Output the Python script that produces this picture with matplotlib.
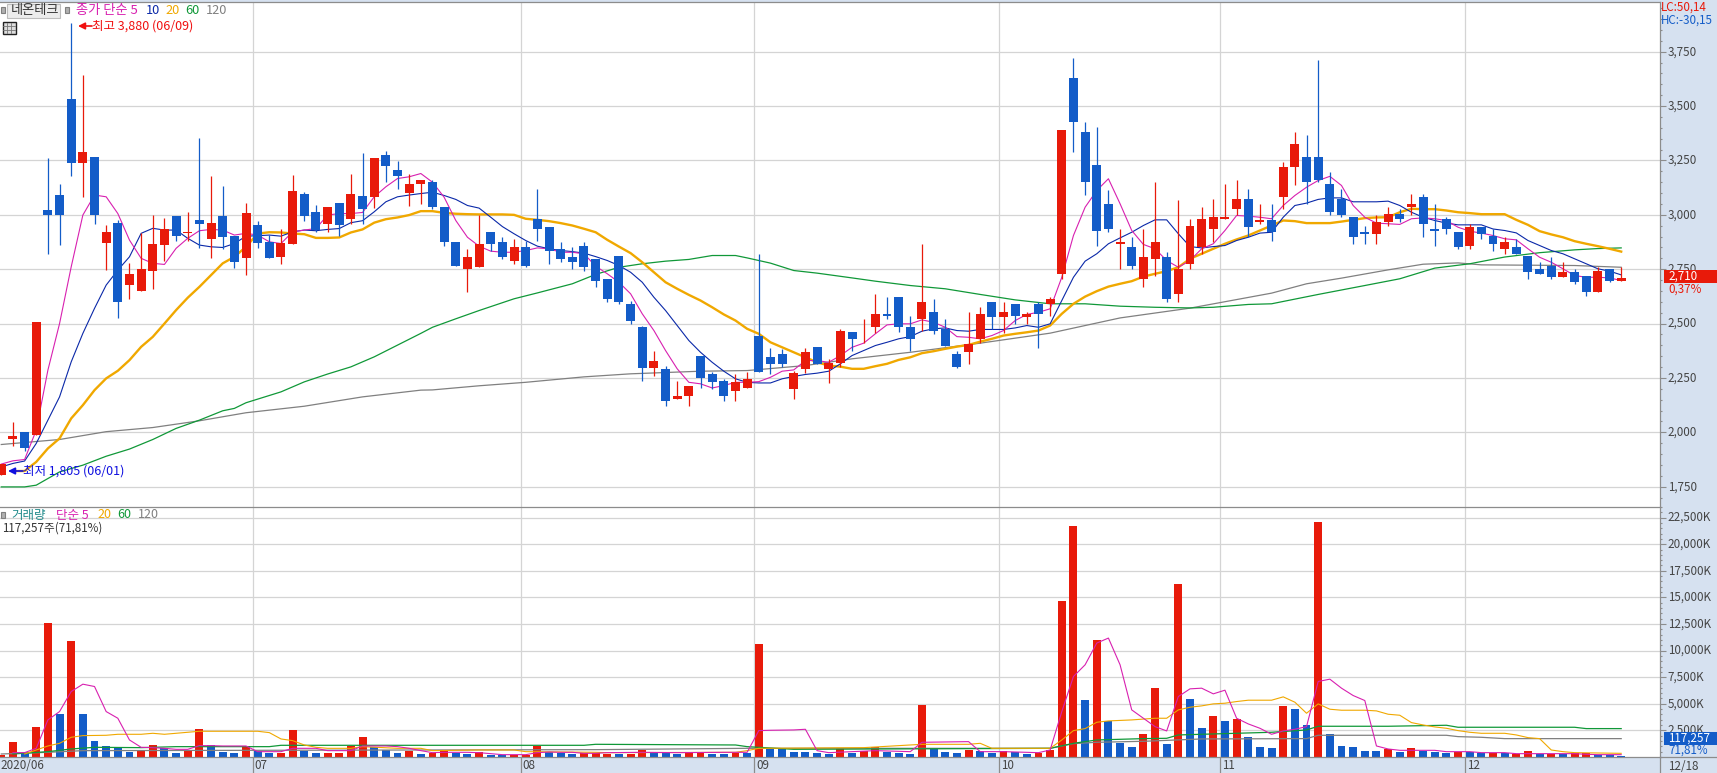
import numpy as np
import matplotlib
matplotlib.use("Agg")
import matplotlib.pyplot as plt
from matplotlib.patches import Rectangle
from matplotlib.ticker import MultipleLocator

W, H = 1717, 773
FONT = ['Noto Sans CJK KR', 'DejaVu Sans']
plt.rcParams['font.family'] = FONT

RED = '#e81a0a'
BLUE = '#135cc8'
PINK = '#d820b0'
NAVY = '#0a28a8'
ORANGE = '#f0a800'
GREEN = '#109838'
GRAY = '#808080'
GRID = '#d4d4d4'
STRIP = '#d6e1f0'
EDGE = '#8c8c8c'
LABEL = '#444444'
SMALL = 8.4

# daily prices
opens = [1805,1971,2000,1988,3021,3091,3532,3238,3266,2870,
         2961,2677,2650,2741,2861,2993,2915,2975,2888,2993,
         2901,2801,2953,2875,2806,2866,3095,3012,2957,3054,
         2980,3086,3082,3275,3206,3100,3141,3149,3038,2873,
         2753,2762,2923,2877,2790,2850,2979,2942,2841,2804,
         2859,2795,2703,2813,2592,2482,2298,2293,2151,2165,
         2353,2266,2238,2192,2206,2445,2348,2358,2201,2289,
         2394,2289,2321,2463,2482,2486,2546,2620,2486,2519,
         2555,2473,2362,2371,2427,2597,2528,2588,2532,2588,
         2592,2726,3627,3383,3227,3052,2864,2850,2707,2799,
         2804,2634,2776,2854,2933,2983,3025,3075,2965,2974,
         3080,3218,3268,3264,3140,3071,2992,2923,2910,2965,
         3002,3038,3084,2933,2983,2923,2859,2946,2905,2845,
         2850,2813,2753,2767,2716,2735,2721,2647,2753,2698]
closes = [1855,1983,1928,2507,2997,2997,3238,3290,2997,2920,
          2597,2728,2751,2865,2935,2901,2920,2957,2961,2897,
          2782,3008,2870,2801,2870,3109,2993,2930,3036,2953,
          3095,3026,3261,3224,3178,3141,3160,3034,2877,2767,
          2804,2864,2864,2808,2850,2767,2933,2836,2799,2785,
          2758,2698,2611,2601,2514,2298,2330,2146,2165,2215,
          2252,2233,2165,2233,2247,2279,2312,2312,2275,2371,
          2316,2321,2468,2431,2486,2546,2537,2482,2431,2597,
          2468,2399,2302,2404,2546,2532,2551,2537,2542,2542,
          2611,3392,3425,3149,2928,2933,2873,2767,2804,2873,
          2611,2749,2951,2983,2988,2988,3075,2942,2974,2919,
          3218,3328,3149,3158,3015,2997,2896,2914,2969,3002,
          2983,3052,2956,2928,2933,2854,2946,2910,2864,2873,
          2822,2739,2726,2716,2735,2693,2647,2744,2698,2710]
highs = [1855,2047,2000,2507,3260,3141,3880,3643,3266,2953,
         2975,2778,2915,2997,2985,2993,3012,3353,3178,3132,
         2901,3054,2971,2907,2934,3183,3104,3045,3036,3054,
         3187,3284,3261,3293,3247,3187,3160,3158,3038,2873,
         2845,2997,2923,2900,2887,2882,3117,2942,2873,2850,
         2873,2795,2703,2813,2606,2491,2376,2307,2238,2215,
         2353,2279,2243,2270,2279,2822,2390,2381,2284,2390,
         2394,2339,2473,2463,2519,2638,2620,2620,2537,2868,
         2611,2519,2376,2555,2574,2597,2601,2592,2555,2601,
         2620,3392,3722,3429,3402,3112,2937,2896,2937,3149,
         2827,3066,2983,3034,3071,3144,3162,3117,3052,3048,
         3245,3379,3369,3714,3199,3117,2992,2951,2997,3034,
         3029,3094,3098,3052,2992,2923,2956,2946,2933,2896,
         2887,2813,2785,2804,2785,2749,2721,2762,2753,2758]
lows = [1805,1939,1914,1988,2820,2860,3180,3083,2958,2746,
        2526,2613,2650,2659,2787,2878,2878,2847,2801,2842,
        2755,2722,2847,2801,2773,2866,2970,2920,2920,2901,
        2957,2957,3031,3151,3118,3042,3049,3029,2859,2767,
        2647,2762,2836,2799,2776,2758,2882,2776,2785,2749,
        2744,2670,2597,2592,2500,2234,2257,2119,2151,2123,
        2206,2197,2142,2146,2206,2279,2266,2302,2151,2275,
        2316,2229,2302,2376,2413,2459,2519,2463,2376,2468,
        2450,2399,2298,2316,2413,2473,2459,2496,2496,2390,
        2537,2707,3291,3089,2859,2919,2749,2753,2670,2721,
        2601,2597,2753,2818,2873,2979,2997,2896,2956,2882,
        3025,3135,3052,3153,2997,2992,2864,2864,2864,2951,
        2969,2997,2896,2859,2910,2841,2841,2891,2836,2818,
        2818,2707,2726,2707,2716,2684,2629,2647,2693,2698]

ma5 = [1854,1869,1875,2010,2286,2500,2761,2999,3091,3083,
       3006,2884,2800,2777,2772,2846,2892,2927,2933,2930,
       2907,2915,2907,2876,2868,2922,2930,2937,2999,3006,
       3006,3011,3083,3129,3167,3175,3190,3150,3081,2974,
       2897,2856,2833,2828,2828,2836,2848,2844,2828,2828,
       2821,2764,2729,2690,2637,2545,2468,2376,2292,2230,
       2223,2204,2215,2230,2230,2233,2253,2281,2287,2330,
       2330,2322,2353,2391,2410,2453,2494,2499,2499,2517,
       2506,2483,2440,2437,2430,2445,2468,2514,2542,2552,
       2568,2713,2905,3035,3112,3166,3051,2928,2864,2844,
       2790,2759,2790,2844,2867,2928,2997,2994,2989,2982,
       3043,3089,3127,3158,3177,3135,3043,2989,2962,2959,
       2956,2982,2986,2982,2974,2943,2925,2916,2905,2890,
       2885,2844,2805,2782,2752,2721,2713,2713,2710,2698]
ma10 = [1841,1857,1868,1949,2056,2163,2324,2455,2570,2677,
        2746,2807,2915,2938,2930,2930,2892,2861,2853,2850,
        2868,2902,2904,2907,2902,2922,2930,2927,2933,2937,
        2964,2973,3014,3060,3083,3091,3098,3104,3089,3071,
        3043,3031,2989,2946,2913,2882,2856,2844,2836,2831,
        2824,2808,2790,2767,2736,2690,2621,2560,2491,2422,
        2368,2322,2281,2246,2230,2227,2227,2246,2257,2266,
        2272,2281,2315,2353,2376,2399,2414,2430,2440,2465,
        2476,2480,2468,2465,2473,2473,2473,2480,2491,2483,
        2499,2606,2713,2787,2821,2867,2894,2920,2951,2977,
        2977,2913,2854,2848,2854,2859,2882,2897,2916,2920,
        2989,3043,3054,3071,3078,3078,3060,3060,3060,3063,
        3043,3012,2989,2974,2962,2954,2954,2954,2935,2928,
        2917,2882,2859,2836,2821,2798,2775,2752,2741,2724]
ma20 = [np.nan,1822,1822,1864,1926,1972,2064,2125,2194,2248,
        2283,2332,2393,2439,2500,2562,2619,2669,2723,2777,
        2807,2853,2914,2920,2919,2914,2911,2894,2894,2896,
        2919,2933,2964,2980,2988,2999,3017,3017,3009,3005,
        3003,3002,3002,3002,3000,2982,2977,2971,2962,2951,
        2936,2920,2885,2854,2824,2782,2736,2690,2660,2632,
        2606,2575,2542,2514,2476,2453,2414,2391,2368,2345,
        2322,2307,2302,2292,2292,2304,2315,2333,2345,2364,
        2373,2384,2394,2402,2417,2430,2445,2453,2460,2468,
        2491,2545,2591,2624,2649,2670,2683,2695,2716,2729,
        2741,2759,2798,2821,2844,2867,2887,2905,2928,2951,
        2974,2971,2962,2962,2962,2969,2977,2985,2988,2989,
        3012,3028,3026,3026,3020,3012,3008,3003,3003,3003,
        2977,2954,2925,2910,2897,2879,2867,2856,2844,2831]

ma60_idx = [0,2,3,5,7,9,11,13,15,17,19,20,21,24,26,28,30,32,34,36,
            37,39,41,44,46,49,51,53,55,57,59,61,63,64,66,68,70,73,
            75,78,81,84,87,90,93,96,99,102,104,107,109,113,117,120,
            123,126,129,132,135,137,139]
ma60 = [1749,1749,1757,1818,1849,1890,1923,1967,2018,2056,2099,2110,2136,2186,2232,2268,2301,2347,2401,2455,
        2483,2522,2560,2614,2641,2683,2726,2759,2775,2787,2795,2813,2813,2802,2778,2744,2732,2710,
        2695,2675,2660,2634,2609,2591,2591,2580,2575,2572,2575,2588,2591,2634,2675,2706,
        2755,2775,2806,2826,2839,2845,2848]
ma120_idx = [0,5,9,13,17,21,26,31,36,37,41,45,50,54,60,64,69,73,78,84,90,96,102,
             109,112,115,119,122,125,127,135,139]
ma120 = [1944,1967,2003,2022,2053,2090,2120,2163,2194,2195,2214,2230,2255,2269,2281,2284,2307,2338,2368,2410,2456,2526,2571,
         2640,2683,2709,2747,2773,2779,2770,2767,2759]

# volume in thousand shares
volume = [190,1415,345,2830,12620,4050,10930,4050,1510,1040,
          910,500,660,1130,820,380,660,2640,1130,470,
          380,1070,600,380,380,2540,600,380,380,380,
          1070,1880,970,690,380,570,280,410,690,410,
          310,470,190,190,190,190,1040,470,410,280,
          380,410,283,283,283,659,408,408,283,408,
          408,283,283,408,345,10645,816,816,471,471,
          377,283,816,408,597,973,471,377,283,4898,
          816,471,377,691,597,408,534,502,283,345,
          691,14695,21666,5369,11021,3360,1350,942,2167,6500,
          1225,16297,5464,2732,3862,3391,3580,1884,942,848,
          4804,4522,3014,22043,2167,1036,942,565,565,754,
          471,848,565,471,377,502,502,408,408,408,
          314,565,283,314,314,345,345,220,220,117]
vol_up = [1,1,0,1,1,0,1,0,0,0,
          0,0,1,1,0,0,1,1,0,0,
          0,1,0,0,1,1,0,0,1,1,
          1,1,0,0,0,1,0,1,1,0,
          0,1,0,0,1,1,1,0,0,0,
          1,1,1,0,1,1,0,0,0,1,
          1,0,0,1,0,1,0,0,0,0,
          0,0,1,0,1,1,0,0,0,1,
          0,0,0,1,0,0,1,0,0,1,
          1,1,1,0,1,0,0,0,1,1,
          0,1,0,0,1,0,1,0,0,0,
          1,0,0,1,0,0,0,0,0,1,
          0,1,0,0,0,1,0,0,1,0,
          1,1,0,1,0,1,1,0,0,0]

vma5_idx = [1,2,3,4,5,6,7,8,9,10,11,12,13,14,15,16,17,18,19,20,21,22,23,24,25,26,27,28,30,31,32,33,34,35,36,37,38,39,40,41,42,43,44,45,46,47,48,49,50,51,
            52,55,58,62,64,65,66,68,69,70,71,75,78,79,83,84,86,89,90,91,92,93,94,95,96,97,98,99,100,101,102,
            103,104,105,106,107,108,109,110,111,112,113,114,115,116,117,118,119,120,123,124,126,127,129,130,135,136,137,139]
vma5 = [408,408,816,3485,4270,6154,6845,6625,4270,3642,1601,911,879,816,722,722,1068,1068,1036,1036,1036,502,502,502,816,816,816,597,597,1036,1036,1036,973,816,597,408,440,440,440,408,314,220,220,220,408,471,440,440,345,345,
        408,440,408,440,440,2481,2512,2543,2606,597,408,597,502,1382,1444,502,502,408,659,4270,7567,8666,10707,11178,8666,4427,3642,2857,2449,5683,6405,
        6468,5935,6280,3642,3109,2700,2135,2449,2606,2857,7096,7316,6468,5778,5307,1036,754,628,628,502,502,408,408,314,314,251,220,220]
vma20_idx = [2,4,5,6,7,9,10,12,13,14,15,17,22,23,24,25,26,27,28,30,31,34,36,37,41,44,45,51,
             52,63,64,65,74,79,83,84,85,90,91,92,93,94,95,97,99,100,101,102,
             103,104,105,106,107,109,110,111,112,113,114,115,117,118,119,120,121,122,123,124,125,126,127,129,130,131,132,133,134,135,139]
vma20 = [283,1036,1287,1853,2010,2041,2135,2135,2229,2135,2229,2418,2418,2292,1696,1539,1130,911,816,816,973,816,816,597,659,659,502,440,
         408,440,597,816,879,1193,1193,1287,816,816,1601,2481,2669,3266,3391,3485,3642,3642,4427,4679,
         4804,4993,5055,5212,5338,5338,5652,5150,4113,4993,4490,4396,4396,4333,4019,3925,3234,3014,2826,2700,2481,2324,2229,2229,2072,1821,1727,659,502,408,345]
vma60_idx = [1,4,6,8,12,15,23,24,50,51,63,64,68,90,92,94,98,100,101,103,109,112,113,119,124,125,135,136,139]
vma60 = [283,502,754,911,879,973,973,1099,1099,1193,1130,973,722,816,1287,1601,1727,1758,2072,2135,2324,2543,2889,2889,2983,2795,2795,2669,2669]
vma120_idx = [0,4,7,51,64,90,92,94,98,103,112,113,124,125,127,129,139]
vma120 = [283,440,597,691,816,816,1256,1382,1476,1696,1727,2041,2041,1915,1853,1727,1727]

price_ticks = [1750, 2000, 2250, 2500, 2750, 3000, 3250, 3500, 3750]
vol_ticks = [2500, 5000, 7500, 10000, 12500, 15000, 17500, 20000, 22500]

# first candle of each month
month_idx = [22, 45, 65, 86, 105, 126]
month_labels = ['07', '08', '09', '10', '11', '12']


def fx(px):
    return px / W


def fy(py):
    return 1 - py / H


def panel(left, top, right, bottom):
    return fig.add_axes([fx(left), fy(bottom), fx(right - left), (bottom - top) / H])


def label(px, py, s, color=LABEL, size=SMALL, zorder=6):
    fig.text(fx(px), fy(py), s, color=color, fontsize=size, ha='left', va='center', zorder=zorder)


def box(left, top, right, bottom, fc, ec='none', lw=0.8):
    fig.add_artist(Rectangle((fx(left), fy(bottom)), fx(right - left), (bottom - top) / H,
                             transform=fig.transFigure, fc=fc, ec=ec, lw=lw, zorder=4))


fig = plt.figure(figsize=(W / 100, H / 100), dpi=100, facecolor=STRIP)

ax = panel(0, 1.5, 1660, 506.7)
ax_v = panel(0, 506.7, 1660, 757)

x = np.arange(len(closes))
xlim = (-0.11, 142.33)
col = np.array([RED if c >= o else BLUE for o, c in zip(opens, closes)])
opens_a, closes_a = np.array(opens), np.array(closes)

for a in (ax, ax_v):
    a.set_xlim(*xlim)
    a.set_axisbelow(True)
    a.yaxis.tick_right()
    a.tick_params(axis='y', which='major', length=4.3, width=0.8, color=EDGE, labelright=False)
    a.tick_params(axis='y', which='minor', length=1.6, width=0.8, color=EDGE)
    a.grid(True, axis='y', color=GRID, lw=0.9)
    a.set_xticks([])
    for m in month_idx:
        a.axvline(m - 0.4, color=GRID, lw=0.9, zorder=0.5)
    for side in ('left', 'bottom'):
        a.spines[side].set_visible(False)
    for side in ('top', 'right'):
        a.spines[side].set_color(EDGE)
        a.spines[side].set_linewidth(0.9)

# price panel
ax.set_ylim(1658, 3981)
ax.set_yticks(price_ticks)
ax.yaxis.set_minor_locator(MultipleLocator(50))
for v in price_ticks:
    ax.text(1.0046, v, f'{v:,}', transform=ax.get_yaxis_transform(), color=LABEL, fontsize=SMALL,
            ha='left', va='center', clip_on=False)

ax.plot(ma120_idx, ma120, color=GRAY, lw=0.9, zorder=2)
ax.plot(ma60_idx, ma60, color=GREEN, lw=0.9, zorder=2)
ax.plot(x, ma20, color=ORANGE, lw=1.7, zorder=2)
ax.plot(x, ma10, color=NAVY, lw=0.8, zorder=2)
ax.plot(x, ma5, color=PINK, lw=0.8, zorder=2)

ax.vlines(x, lows, highs, colors=col, lw=0.9, zorder=3)
ax.bar(x, np.abs(closes_a - opens_a), bottom=np.minimum(opens_a, closes_a), width=0.77,
       color=col, linewidth=0, zorder=3)

# volume panel
ax_v.set_ylim(0, 23524)
ax_v.set_yticks(vol_ticks)
ax_v.yaxis.set_minor_locator(MultipleLocator(500))
for v in vol_ticks:
    ax_v.text(1.0046, v, f'{v:,}K', transform=ax_v.get_yaxis_transform(), color=LABEL, fontsize=SMALL,
              ha='left', va='center', clip_on=False)

vcol = [RED if u else BLUE for u in vol_up]
ax_v.bar(x, volume, width=0.68, color=vcol, linewidth=0, zorder=2)
ax_v.plot(vma120_idx, vma120, color=GRAY, lw=0.9, zorder=3)
ax_v.plot(vma60_idx, vma60, color=GREEN, lw=0.9, zorder=3)
ax_v.plot(vma20_idx, vma20, color=ORANGE, lw=0.8, zorder=3)
ax_v.plot(vma5_idx, vma5, color=PINK, lw=0.8, zorder=3)

# bottom date strip
ax_d = panel(0, 757, 1660, 773)
ax_d.set_facecolor(STRIP)
ax_d.set_xlim(*xlim)
ax_d.set_ylim(0, 1)
ax_d.set_yticks([])
ax_d.set_xticks([])
for side in ('left', 'right', 'bottom'):
    ax_d.spines[side].set_visible(False)
ax_d.spines['top'].set_color(EDGE)
ax_d.spines['top'].set_linewidth(0.9)
ax_d.text(xlim[0], 0.45, '2020/06', color=LABEL, fontsize=SMALL, va='center', ha='left')
for m, s in zip(month_idx, month_labels):
    ax_d.axvline(m - 0.4, color=EDGE, lw=0.9)
    ax_d.text(m - 0.25, 0.45, s, color=LABEL, fontsize=SMALL, va='center', ha='left')
fig.add_artist(plt.Line2D([fx(1660)] * 2, [fy(757), fy(773)], color=EDGE, lw=0.9))
fig.add_artist(plt.Line2D([fx(1660), 1], [fy(757)] * 2, color=EDGE, lw=0.9))
label(1668, 766, '12/18')

# price legend and buttons
box(0.5, 7, 4.5, 13, '#b0b0b0', '#808080')
box(7, 4, 60, 17.5, '#ececec', '#bdbdbd')
label(11, 10.5, '네온테크', color='#333333', size=9.5)
box(64.5, 7, 68.5, 13, '#b0b0b0', '#808080')
label(76, 10.5, '종가 단순 5', color=PINK, size=9.5)
label(146, 10.5, '10', color=NAVY, size=9.2)
label(165.7, 10.5, '20', color=ORANGE, size=9.2)
label(185.7, 10.5, '60', color=GREEN, size=9.2)
label(206, 10.5, '120', color=GRAY, size=9.2)
box(2.5, 22, 15.5, 34, '#dddddd', '#222222', lw=1.0)
for gx in (6.5, 11):
    fig.add_artist(plt.Line2D([fx(gx)] * 2, [fy(23), fy(33)], color='#777777', lw=0.6, zorder=5))
fig.add_artist(plt.Line2D([fx(3), fx(15)], [fy(26)] * 2, color='#777777', lw=0.6, zorder=5))
fig.add_artist(plt.Line2D([fx(3), fx(15)], [fy(30)] * 2, color='#777777', lw=0.6, zorder=5))

# high and low marks
label(92, 26, '최고 3,880 (06/09)', color='#f01010', size=9.0)
ax.annotate('', xy=(fx(78), fy(26)), xytext=(fx(92), fy(26)), xycoords='figure fraction',
            textcoords='figure fraction', zorder=7,
            arrowprops=dict(arrowstyle='-|>', color='#f01010', lw=1.2, shrinkA=0, shrinkB=0))
label(23, 471, '최저 1,805 (06/01)', color='#1010e0', size=9.0)
ax.annotate('', xy=(fx(8), fy(471)), xytext=(fx(23), fy(471)), xycoords='figure fraction',
            textcoords='figure fraction', zorder=7,
            arrowprops=dict(arrowstyle='-|>', color='#1010e0', lw=1.2, shrinkA=0, shrinkB=0))

# volume legend
box(0.5, 512, 4.5, 518, '#b0b0b0', '#808080')
label(11.5, 515, '거래량', color='#208a8a', size=9.0)
label(55.5, 515, '단순 5', color=PINK, size=9.0)
label(97.6, 515, '20', color=ORANGE, size=9.0)
label(117.5, 515, '60', color=GREEN, size=9.0)
label(138, 515, '120', color=GRAY, size=9.0)
label(2, 528, '117,257주(71,81%)', color='#333333')

# right side readouts
label(1661, 7, 'LC:50,14', color=RED)
label(1661, 20, 'HC:-30,15', color=BLUE)
box(1664, 270, 1717, 282.7, RED)
label(1668, 276.5, '2,710', color='white')
label(1668, 289, '0,37%', color=RED)
box(1664, 732, 1717, 745, BLUE)
label(1668, 738.5, '117,257', color='white')
label(1668, 750.5, '71,81%', color=BLUE)

fig.savefig('out.png', dpi=100, facecolor=fig.get_facecolor())
